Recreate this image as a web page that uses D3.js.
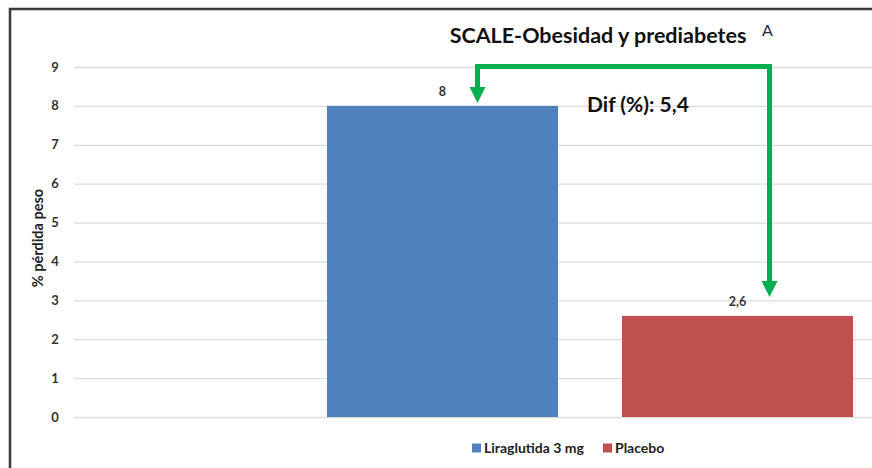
<!DOCTYPE html>
<html>
<head>
<meta charset="utf-8">
<script src="https://cdn.jsdelivr.net/npm/d3@7"></script>
<style>
  body { margin: 0; background: #fff; }
  svg { display: block; font-family: Lato, "Open Sans", sans-serif; }
</style>
</head>
<body>
<div id="chart"></div>
<script>
const categories = ["SCALE-Obesidad y prediabetes"]
const series = ["Liraglutida 3 mg", "Placebo"]
const values = [8, 2.6]
const valueLabels = ["8", "2,6"]
const colors = ["#4f81bd", "#c0504d"]
const yTicks = [0, 1, 2, 3, 4, 5, 6, 7, 8, 9]
const diffLabel = "Dif (%): 5,4"

const width = 872
const height = 468
const margin = { top: 67, left: 74, bottom: 51 }
const plotRight = 1106   // the chart runs past the right edge of the picture

const svg = d3.select("#chart")
    .append("svg")
    .attr("width", width)
    .attr("height", height)

// outer frame (cut off on right and bottom)
svg.append("rect")
    .attr("x", 10)
    .attr("y", 9)
    .attr("width", 1000)
    .attr("height", 600)
    .attr("fill", "none")
    .attr("stroke", "#3a3a3a")
    .attr("stroke-width", 2.5)

const y = d3.scaleLinear()
    .domain([0, 9])
    .range([height - margin.bottom, margin.top])

const x0 = d3.scaleBand()
    .domain(categories)
    .range([margin.left, plotRight])
    .paddingInner(0)
    .paddingOuter(0.481)

const x1 = d3.scaleBand()
    .domain(series)
    .range([0, x0.bandwidth()])
    .paddingInner(0.217)
    .paddingOuter(0)

// gridlines
svg.append("g")
    .selectAll("line")
    .data(yTicks)
    .join("line")
    .attr("x1", margin.left)
    .attr("x2", plotRight)
    .attr("y1", d => y(d) + 0.5)
    .attr("y2", d => y(d) + 0.5)
    .attr("stroke", "#dcdcdc")
    .attr("stroke-width", 1.3)

// tick labels
svg.append("g")
    .selectAll("text")
    .data(yTicks)
    .join("text")
    .attr("x", 55)
    .attr("y", d => y(d))
    .attr("dy", "0.35em")
    .attr("text-anchor", "middle")
    .style("font-size", "13px")
    .style("font-weight", "bold")
    .style("fill", "#333")
    .text(d => d)

svg.append("text")
    .attr("transform", `translate(38, ${(y(0) + y(9)) / 2 - 4}) rotate(-90)`)
    .attr("text-anchor", "middle")
    .attr("dy", "0.35em")
    .style("font-size", "14.5px")
    .style("font-weight", "bold")
    .style("fill", "#222")
    .text("% pérdida peso")

// bars
const cat = categories[0]
svg.append("g")
    .selectAll("rect")
    .data(series)
    .join("rect")
    .attr("x", d => x0(cat) + x1(d))
    .attr("y", (d, i) => y(values[i]))
    .attr("width", x1.bandwidth())
    .attr("height", (d, i) => y(0) - y(values[i]))
    .attr("fill", (d, i) => colors[i])

svg.append("g")
    .selectAll("text")
    .data(series)
    .join("text")
    .attr("x", d => x0(cat) + x1(d) + x1.bandwidth() / 2)
    .attr("y", (d, i) => y(values[i]) - 10)
    .attr("text-anchor", "middle")
    .style("font-size", "12.5px")
    .style("font-weight", "bold")
    .style("fill", "#333")
    .text((d, i) => valueLabels[i])

// title
svg.append("text")
    .attr("x", 598)
    .attr("y", 43)
    .attr("text-anchor", "middle")
    .style("font-size", "21.5px")
    .style("font-weight", "bold")
    .style("fill", "#111")
    .text(cat)

svg.append("text")
    .attr("x", 762)
    .attr("y", 36)
    .style("font-size", "16px")
    .style("fill", "#1f2a44")
    .text("A")

// difference arrow
const green = "#00b050"
const xa = x0(cat) + x1(series[0]) + x1.bandwidth() / 2 + 35
const xb = x0(cat) + x1(series[1]) + x1.bandwidth() / 2 + 32
const yTop = y(9) - 0.5
const tipA = y(values[0]) - 3
const tipB = y(values[1]) - 19
const head = 16

svg.append("path")
    .attr("d", `M${xa},${tipA - head} V${yTop} H${xb} V${tipB - head}`)
    .attr("fill", "none")
    .attr("stroke", green)
    .attr("stroke-width", 5)
    .attr("stroke-linejoin", "miter")

svg.append("g")
    .selectAll("path")
    .data([[xa, tipA], [xb, tipB]])
    .join("path")
    .attr("d", d => `M${d[0] - 8},${d[1] - head} L${d[0] + 8},${d[1] - head} L${d[0]},${d[1]} Z`)
    .attr("fill", green)

svg.append("text")
    .attr("x", 587)
    .attr("y", 112)
    .style("font-size", "21px")
    .style("font-weight", "bold")
    .style("fill", "#111")
    .text(diffLabel)

// legend
const legend = svg.append("g")
    .selectAll("g")
    .data(series)
    .join("g")
    .attr("transform", (d, i) => `translate(${[472, 603][i]}, 448)`)

legend.append("rect")
    .attr("x", 0)
    .attr("y", -4.5)
    .attr("width", 9)
    .attr("height", 9)
    .attr("fill", (d, i) => colors[i])

legend.append("text")
    .attr("x", 12)
    .attr("dy", "0.35em")
    .style("font-size", "14px")
    .style("font-weight", "bold")
    .style("fill", "#222")
    .text(d => d)
</script>
</body>
</html>
